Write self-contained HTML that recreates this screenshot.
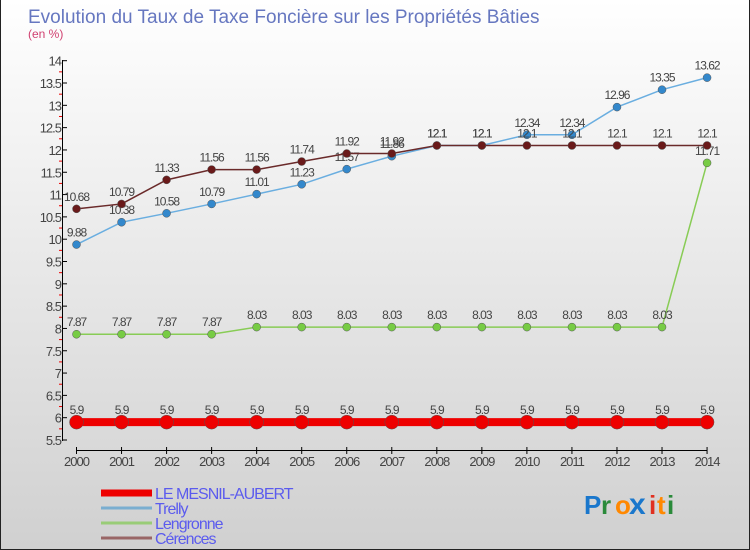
<!DOCTYPE html>
<html><head><meta charset="utf-8"><style>
body{margin:0}
#c{width:750px;height:550px;position:relative;overflow:hidden;background:linear-gradient(#ffffff,#d0d0d0);font-family:"Liberation Sans",sans-serif;box-sizing:border-box;border:1px solid #222;border-top:none}
</style></head><body>
<div id="c">
<svg id="s" width="750" height="550"></svg>
</div>
<script>
const years=[2000,2001,2002,2003,2004,2005,2006,2007,2008,2009,2010,2011,2012,2013,2014];
const mesnil=[5.9,5.9,5.9,5.9,5.9,5.9,5.9,5.9,5.9,5.9,5.9,5.9,5.9,5.9,5.9];
const trelly=[9.88,10.38,10.58,10.79,11.01,11.23,11.57,11.86,12.1,12.1,12.34,12.34,12.96,13.35,13.62];
const lengronne=[7.87,7.87,7.87,7.87,8.03,8.03,8.03,8.03,8.03,8.03,8.03,8.03,8.03,8.03,11.71];
const cerences=[10.68,10.79,11.33,11.56,11.56,11.74,11.92,11.92,12.1,12.1,12.1,12.1,12.1,12.1,12.1];
const yTicks=[5.5,6,6.5,7,7.5,8,8.5,9,9.5,10,10.5,11,11.5,12,12.5,13,13.5,14];
const seriesNames=["LE MESNIL-AUBERT","Trelly","Lengronne","Cérences"];
const NS="http://www.w3.org/2000/svg",s=document.getElementById('s');
const X=i=>75.5+i*45.04, Y=v=>440-(v-5.5)*(379.3/8.5);
function el(t,a,txt){const e=document.createElementNS(NS,t);for(const k in a)e.setAttribute(k,a[k]);if(txt!==undefined)e.textContent=txt;s.appendChild(e);return e;}
let e;
e=el('text',{x:27,y:23,'font-size':19,fill:'#6677c0'},'Evolution du Taux de Taxe Foncière sur les Propriétés Bâties');

e=el('text',{x:27,y:38,'font-size':12,fill:'#d04070'},'(en %)');

e=el('line',{x1:61.5,y1:60,x2:61.5,y2:441,stroke:'#000'});

yTicks.forEach((v,i)=>{
 const y=Y(v);
 const t=el('line',{x1:61,y1:y,x2:66,y2:y,stroke:'#000'});
 
 const l=el('text',{x:60,y:y+5,'font-size':13,fill:'#444','text-anchor':'end','letter-spacing':'-1'},String(v));
 
 if(i<yTicks.length-1){const m=el('line',{x1:58,y1:Y(v+0.25),x2:61,y2:Y(v+0.25),stroke:'#e00'});
 }
});
e=el('line',{x1:X(0),y1:450.5,x2:X(14),y2:450.5,stroke:'#000'});

years.forEach((yr,i)=>{
 const t=el('line',{x1:X(i),y1:447,x2:X(i),y2:454,stroke:'#000'});
 
 const l=el('text',{x:X(i),y:466,'font-size':13,fill:'#444','text-anchor':'middle','letter-spacing':'-1'},String(yr));
 
});
function series(data,color,dot,w,r,name){
 const pts=data.map((v,i)=>X(i)+','+Y(v)).join(' ');
 const p=el('polyline',{points:pts,fill:'none',stroke:color,'stroke-width':w});
 
 data.forEach((v,i)=>{
  const c=el('circle',{cx:X(i),cy:Y(v),r:r,fill:dot,stroke:'#555','stroke-width':0.5});
  
  const t=el('text',{x:X(i),y:Y(v)-8,'font-size':12,fill:'#444','text-anchor':'middle','letter-spacing':'-1'},String(v));
  
 });
}
series(lengronne,'#88cc55','#77cc44',1.5,4,'lengronne');
series(trelly,'#6aaee0','#3388cc',1.5,4,'trelly');
series(cerences,'#6a2a2a','#6a1a1a',1.5,4,'cerences');
series(mesnil,'#ee0000','#ee0000',8,7,'mesnil-aubert');
const lc=['#ee0000','#7aaed0','#99cc77','#996666'],lw=[7,3,3,3];
seriesNames.forEach((n,i)=>{
 const y=493+i*15;
 const l=el('line',{x1:100,y1:y,x2:151,y2:y,stroke:lc[i],'stroke-width':lw[i]});
 
 const t=el('text',{x:154,y:y+6,'font-size':16,fill:'#5b5bee','letter-spacing':'-1'},n);
 
});
const g=el('g',{});
const letters=[['P','#1a77cc'],['r','#2a8a3a'],['o','#ff8800'],['x','#1a77cc'],['i','#e03020'],['t','#ff8800'],['i','#2a8a3a']];
let lx=583;
letters.forEach(([ch,col])=>{const t=document.createElementNS(NS,'text');t.setAttribute('x',lx);t.setAttribute('y',514);t.setAttribute('font-size',ch==='x'?30:26);t.setAttribute('font-weight','bold');t.setAttribute('fill',col);t.textContent=ch;g.appendChild(t);s.appendChild(g);lx+=ch==='P'?17:ch==='x'?20:ch==='i'?8:ch==='t'?10:14;});
</script>
</body></html>
